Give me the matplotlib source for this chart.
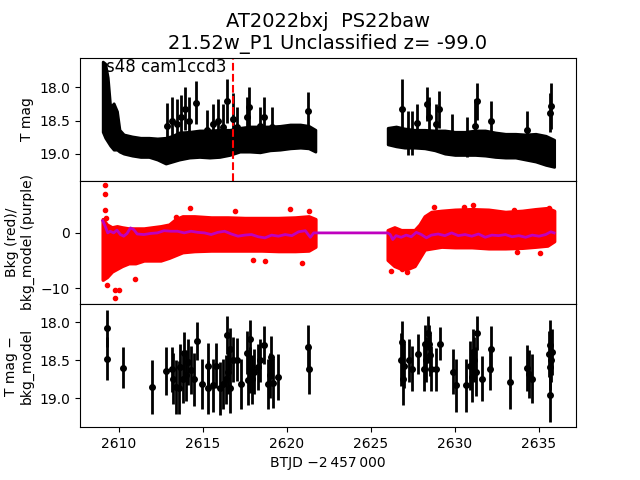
import numpy as np
import matplotlib
matplotlib.use('Agg')
import matplotlib.pyplot as plt

# ---- top panel: dense light curve envelope (BTJD, bright edge, faint edge) ----
lc1_t = [2609.05, 2609.2, 2609.35, 2609.5, 2609.7, 2609.9, 2610.05, 2610.3, 2610.8, 2611.3,
         2611.8, 2612.3, 2612.8, 2613.2, 2613.6, 2614.2, 2614.8, 2615.4, 2616.0, 2616.6,
         2617.2, 2617.8, 2618.4, 2619.0, 2619.6, 2620.2, 2620.8, 2621.3, 2621.7]
lc1_hi = [17.61, 17.64, 17.85, 18.30, 18.24, 18.36, 18.64, 18.71, 18.74, 18.76,
          18.76, 18.77, 18.76, 18.73, 18.68, 18.67, 18.65, 18.65, 18.64, 18.64,
          18.61, 18.59, 18.59, 18.59, 18.58, 18.56, 18.56, 18.58, 18.64]
lc1_lo = [18.67, 18.76, 18.82, 18.88, 18.94, 18.94, 18.97, 19.00, 19.03, 19.05,
          19.05, 19.09, 19.15, 19.12, 19.09, 19.06, 19.05, 19.06, 19.05, 19.02,
          18.97, 18.97, 18.98, 18.95, 18.94, 18.92, 18.91, 18.92, 18.97]
lc2_t = [2626.0, 2626.5, 2627.0, 2627.6, 2628.2, 2628.8, 2629.4, 2630.0, 2630.6, 2631.2,
         2631.8, 2632.4, 2633.0, 2633.6, 2634.2, 2634.8, 2635.4, 2635.9]
lc2_hi = [18.61, 18.59, 18.62, 18.64, 18.64, 18.65, 18.65, 18.67, 18.67, 18.65,
          18.65, 18.68, 18.70, 18.70, 18.71, 18.70, 18.73, 18.79]
lc2_lo = [18.86, 18.89, 18.91, 18.91, 18.92, 18.95, 19.00, 19.02, 19.02, 19.02,
          19.03, 19.05, 19.06, 19.06, 19.09, 19.12, 19.17, 19.20]

# individual noisy points in top panel
out_t = [2612.87, 2613.2, 2613.45, 2613.7, 2613.96, 2614.2, 2614.6, 2615.27, 2615.6, 2615.9,
         2616.2, 2616.44, 2616.8, 2617.03, 2617.65, 2617.77, 2618.42, 2618.66, 2619.12, 2621.24,
         2626.86, 2627.2, 2627.45, 2627.77, 2628.36, 2628.48, 2628.9, 2629.08, 2629.85, 2630.7,
         2631.2, 2631.34, 2632.15, 2634.3, 2635.74, 2635.68]
out_m = [18.58, 18.50, 18.55, 18.45, 18.32, 18.50, 18.23, 18.64, 18.55, 18.50,
         18.60, 18.21, 18.48, 18.60, 18.44, 18.29, 18.59, 18.45, 18.60, 18.35,
         18.32, 18.69, 18.69, 18.53, 18.25, 18.45, 18.55, 18.33, 18.70, 18.75,
         18.58, 18.21, 18.51, 18.65, 18.28, 18.38]
out_e = [0.34, 0.35, 0.38, 0.33, 0.33, 0.35, 0.33, 0.30, 0.30, 0.32,
         0.35, 0.33, 0.40, 0.30, 0.30, 0.30, 0.30, 0.30, 0.30, 0.28,
         0.45, 0.33, 0.33, 0.28, 0.25, 0.30, 0.30, 0.28, 0.30, 0.30,
         0.40, 0.28, 0.30, 0.30, 0.35, 0.30]

# ---- middle panel: background envelope, outliers, model ----
bk1_t = [2609.05, 2609.3, 2609.6, 2609.9, 2610.2, 2610.6, 2611.0, 2611.5, 2612.0, 2612.5,
         2613.0, 2613.4, 2613.8, 2614.5, 2615.5, 2616.5, 2617.5, 2618.5, 2619.5, 2620.5,
         2621.3, 2621.7]
bk1_hi = [2.5, 1.5, 1.0, 1.2, 1.0, 0.8, 0.8, 0.8, 1.0, 1.2,
          1.5, 2.5, 3.0, 3.0, 2.8, 2.8, 2.7, 2.7, 2.7, 2.8, 3.0, 2.5]
bk1_lo = [-8.5, -8.0, -7.0, -6.5, -6.0, -5.5, -5.5, -5.0, -5.0, -5.0,
          -4.5, -4.0, -3.5, -3.3, -3.2, -3.2, -3.2, -3.2, -3.3, -3.3, -3.2, -2.5]
bk2_t = [2626.0, 2626.4, 2626.8, 2627.2, 2627.6, 2627.9, 2628.2, 2628.6, 2629.2, 2630.0,
         2631.0, 2632.0, 2633.0, 2634.0, 2634.8, 2635.5, 2635.9]
bk2_hi = [0.5, 1.0, 0.5, 0.5, 0.5, 1.5, 3.0, 3.8, 4.0, 4.2, 4.3, 4.2, 3.8, 4.0, 4.3, 4.5, 4.0]
bk2_lo = [-4.9, -6.0, -6.5, -6.5, -6.0, -4.5, -3.0, -2.8, -2.5, -2.6, -2.6, -2.8, -2.8, -2.7,
          -2.5, -2.3, -1.5]
bko_t = [2609.2, 2609.2, 2609.2, 2609.25, 2609.3, 2609.8, 2609.8, 2610.0, 2611.0, 2613.4,
         2614.26, 2616.9, 2618.0, 2618.7, 2620.9, 2621.3, 2620.2, 2626.2, 2626.85, 2627.15,
         2628.78, 2630.56, 2631.08, 2633.5, 2635.05, 2635.58, 2633.7]
bko_v = [8.6, 7.1, 4.2, 2.7, -9.5, -10.4, -11.8, -10.3, -8.4, 2.8,
         4.5, 4.0, -4.9, -5.1, -5.5, 3.9, 4.4, -6.9, -6.6, -7.1,
         4.7, 4.7, 5.1, 4.2, -3.7, 4.5, -3.4]
mod_t = [2609.05, 2609.2, 2609.35, 2609.5, 2609.7, 2609.9, 2610.1, 2610.3, 2610.5, 2610.7,
         2610.9, 2611.1, 2611.5, 2611.9, 2612.3, 2612.7, 2613.1, 2613.5, 2613.9, 2614.3,
         2614.7, 2615.1, 2615.5, 2615.9, 2616.3, 2616.7, 2617.1, 2617.5, 2617.9, 2618.3,
         2618.7, 2619.1, 2619.5, 2619.9, 2620.3, 2620.7, 2621.1, 2621.4, 2621.6,
         2626.0, 2626.15, 2626.3, 2626.5, 2626.8, 2627.1, 2627.4, 2627.7, 2628.0, 2628.3,
         2628.6, 2629.0, 2629.4, 2629.8, 2630.2, 2630.6, 2631.0, 2631.4, 2631.8, 2632.2,
         2632.6, 2633.0, 2633.4, 2633.8, 2634.2, 2634.6, 2635.0, 2635.4, 2635.7, 2635.9]
mod_v = [2.2, 1.2, 0.0, 0.3, 0.0, 0.5, -0.3, -0.6, -0.1, 0.9,
         0.6, -0.2, -0.3, -0.1, 0.0, 0.4, 0.3, 0.3, 0.0, 0.3,
         0.1, 0.0, -0.3, 0.1, 0.3, -0.2, -0.6, -0.4, -0.3, -0.7,
         -0.9, -0.4, -0.6, -0.3, -0.5, 0.2, 0.4, -0.8, 0.0,
         0.0, -0.3, -1.2, -0.5, -0.8, -0.4, -0.7, 0.1, -0.3, -0.9,
         -0.4, -0.2, -0.5, 0.0, -0.5, -0.3, -0.6, -0.2, -0.8, -0.4,
         -0.5, -0.3, -0.7, -0.5, -0.8, -0.4, -0.6, -0.3, 0.2, 0.0]

# ---- bottom panel: binned, background-corrected magnitudes ----
cor_t = [2609.33, 2609.33, 2610.25, 2612.01, 2612.83, 2613.18, 2613.26, 2613.42, 2613.56, 2613.66,
         2613.82, 2613.90, 2614.00, 2614.15, 2614.30, 2614.49, 2614.65, 2614.97, 2615.29, 2615.29,
         2615.64, 2615.80, 2616.04, 2616.20, 2616.36, 2616.44, 2616.52, 2616.64, 2616.60, 2616.80,
         2617.03, 2617.27, 2617.63, 2617.69, 2617.79, 2617.83, 2617.95, 2618.07, 2618.26, 2618.42,
         2618.66, 2618.86, 2618.98, 2619.06, 2619.18, 2619.45, 2621.24, 2621.30,
         2626.86, 2626.82, 2626.90, 2626.99, 2627.25, 2627.47, 2627.79, 2628.18, 2628.24, 2628.30,
         2628.38, 2628.48, 2628.54, 2628.60, 2628.88, 2629.10, 2629.87, 2630.09, 2630.63, 2630.92,
         2631.02, 2631.08, 2631.16, 2631.26, 2631.34, 2631.60, 2632.07, 2632.13, 2633.26, 2634.26,
         2634.39, 2634.60, 2635.58, 2635.68, 2635.72, 2635.68, 2635.68, 2635.78]
cor_m = [18.08, 18.48, 18.60, 18.85, 18.64, 18.62, 18.74, 18.85, 18.86, 18.59,
         18.74, 18.41, 18.70, 18.52, 18.63, 18.75, 18.25, 18.81, 18.57, 18.86,
         18.83, 18.57, 18.87, 18.81, 18.75, 18.17, 18.65, 18.86, 18.35, 18.49,
         18.49, 18.81, 18.40, 18.76, 18.22, 18.63, 18.75, 18.65, 18.59, 18.50,
         18.30, 18.81, 18.70, 18.46, 18.80, 18.72, 18.32, 18.62,
         18.26, 18.49, 18.74, 18.57, 18.50, 18.61, 18.42, 18.61, 18.28, 18.49,
         18.14, 18.28, 18.43, 18.61, 18.62, 18.28, 18.65, 18.83, 18.83, 18.57,
         18.72, 18.39, 18.49, 18.65, 18.14, 18.74, 18.61, 18.35, 18.79, 18.60,
         18.68, 18.74, 18.42, 18.30, 18.49, 18.59, 18.96, 18.39]
cor_e = [0.24, 0.28, 0.27, 0.35, 0.32, 0.30, 0.33, 0.35, 0.35, 0.30,
         0.32, 0.28, 0.33, 0.30, 0.32, 0.35, 0.25, 0.33, 0.30, 0.35,
         0.35, 0.30, 0.35, 0.33, 0.32, 0.25, 0.30, 0.33, 0.28, 0.30,
         0.28, 0.33, 0.28, 0.33, 0.25, 0.30, 0.32, 0.30, 0.30, 0.28,
         0.25, 0.33, 0.30, 0.28, 0.33, 0.30, 0.28, 0.33,
         0.28, 0.35, 0.35, 0.30, 0.28, 0.30, 0.26, 0.30, 0.25, 0.30,
         0.22, 0.25, 0.28, 0.30, 0.28, 0.22, 0.30, 0.35, 0.35, 0.32,
         0.33, 0.30, 0.30, 0.32, 0.22, 0.30, 0.28, 0.30, 0.35, 0.30,
         0.32, 0.32, 0.30, 0.33, 0.30, 0.30, 0.35, 0.30]

peak_t = 2616.8

fig, (ax1, ax2, ax3) = plt.subplots(3, 1, sharex=True, figsize=(6.4, 4.8))
fig.subplots_adjust(hspace=0)

# top
for t, hi, lo in [(lc1_t, lc1_hi, lc1_lo), (lc2_t, lc2_hi, lc2_lo)]:
    ax1.fill_between(t, hi, lo, color='k', lw=2, edgecolor='k')
ax1.errorbar(out_t, out_m, yerr=out_e, fmt='o', color='k', ms=4, elinewidth=2)
ax1.axvline(peak_t, color='r', ls='--', lw=1.5)
ax1.set_ylim(19.41, 17.55)
ax1.set_yticks([18.0, 18.5, 19.0])
ax1.set_ylabel('T mag')
ax1.text(0.052, 0.886, 's48 cam1ccd3', transform=ax1.transAxes, fontsize=12, va='baseline')
ax1.set_title('AT2022bxj  PS22baw\n21.52w_P1 Unclassified z= -99.0', fontsize=14)

# middle
for t, hi, lo in [(bk1_t, bk1_hi, bk1_lo), (bk2_t, bk2_hi, bk2_lo)]:
    ax2.fill_between(t, hi, lo, color='r', lw=2.5, edgecolor='r')
ax2.plot(bko_t, bko_v, 'o', color='r', ms=3)
ax2.plot(mod_t, mod_v, color='m', lw=2)
ax2.set_ylim(-12.9, 9.45)
ax2.set_yticks([-10, 0])
ax2.set_ylabel('Bkg (red)/\nbkg_model (purple)')

# bottom
ax3.errorbar(cor_t, cor_m, yerr=cor_e, fmt='o', color='k', ms=4, elinewidth=2)
ax3.set_ylim(19.38, 17.76)
ax3.set_yticks([18.0, 18.5, 19.0])
ax3.set_ylabel('T mag \u2212\nbkg_model')
ax3.set_xlim(2607.7, 2637.2)
ax3.set_xticks([2610, 2615, 2620, 2625, 2630, 2635])
ax3.set_xlabel('BTJD \u22122\u2009457\u2009000')

plt.savefig('out.png', dpi=100)
